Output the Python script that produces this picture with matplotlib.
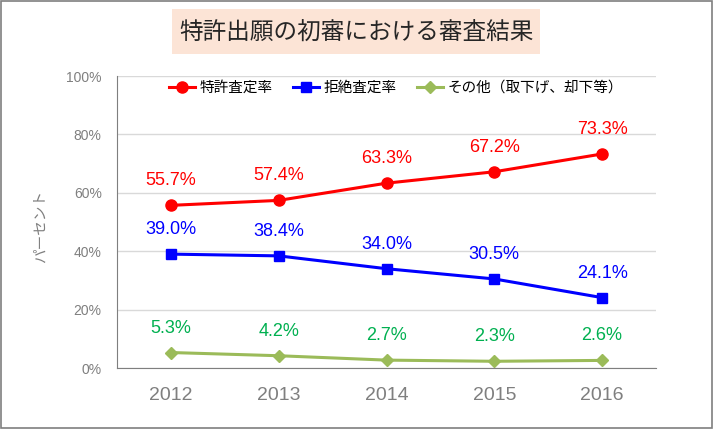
import numpy as np
import matplotlib.pyplot as plt
from matplotlib.patches import Rectangle

plt.rcParams['font.family'] = ['Noto Sans CJK JP', 'DejaVu Sans']

years = ['2012', '2013', '2014', '2015', '2016']
grant = [55.7, 57.4, 63.3, 67.2, 73.3]
reject = [39.0, 38.4, 34.0, 30.5, 24.1]
other = [5.3, 4.2, 2.7, 2.3, 2.6]
names = ['特許査定率', '拒絶査定率', 'その他（取下げ、却下等）']

num_font = ['Liberation Sans', 'DejaVu Sans']

fig = plt.figure(figsize=(7.14, 4.29), dpi=100)
fig.patches.append(Rectangle((0.002, 0.003), 0.995, 0.994, transform=fig.transFigure,
                             fill=False, edgecolor='#7f7f7f', linewidth=1.2))

#Title with peach box
fig.patches.append(Rectangle((172/714, 1-54/429), 368/714, 45/429, transform=fig.transFigure,
                             facecolor='#FCE4D6', edgecolor='none'))
fig.text(356/714, 1-32/429, '特許出願の初審における審査結果', ha='center', va='center',
         fontsize=17, color='#262626')

ax = fig.add_axes([117/714, 1-368/429, 539/714, 292/429])
x = np.arange(len(years))

ax.plot(x, grant, color='#FF0000', lw=2.2, marker='o', ms=8, label=names[0])
ax.plot(x, reject, color='#0000FF', lw=2.2, marker='s', ms=6.5, label=names[1])
ax.plot(x, other, color='#9BBB59', lw=2.2, marker='D', ms=6, label=names[2])

for vals, col in [(grant, '#FF0000'), (reject, '#0000FF'), (other, '#00B050')]:
    for xi, v in zip(x, vals):
        ax.annotate(f'{v:.1f}%', (xi, v), xytext=(0, 14.4), textcoords='offset points',
                    ha='center', va='baseline', color=col, fontsize=13, family=num_font)

ax.set_xlim(-0.5, len(years) - 0.5)
ax.set_ylim(0, 100)
ax.set_yticks(np.arange(0, 101, 20))
ax.set_yticklabels([f'{t}%' for t in range(0, 101, 20)], family=num_font)
ax.set_xticks(x)
ax.set_xticklabels(years, family=num_font)
ax.tick_params(axis='y', length=0, labelsize=10, labelcolor='#7f7f7f', pad=11)
ax.tick_params(axis='x', length=0, labelsize=14, labelcolor='#7f7f7f', pad=14)
ax.grid(axis='y', color='#d9d9d9', lw=1)
ax.set_axisbelow(True)
for s in ['top', 'right']:
    ax.spines[s].set_visible(False)
ax.spines['left'].set_color('#7f7f7f')
ax.spines['bottom'].set_color('#7f7f7f')

ax.set_ylabel('パーセント', fontsize=10.5, color='#7f7f7f')
ax.yaxis.set_label_coords(-(117-48)/539, (368-226)/292)

ax.legend(loc='center', bbox_to_anchor=(396/714, 1-88/429), bbox_transform=fig.transFigure,
          ncol=3, frameon=False, fontsize=10.5, handlelength=1.8, handletextpad=0.3,
          columnspacing=1.4, borderaxespad=0)

fig.savefig('out.png', dpi=100)
